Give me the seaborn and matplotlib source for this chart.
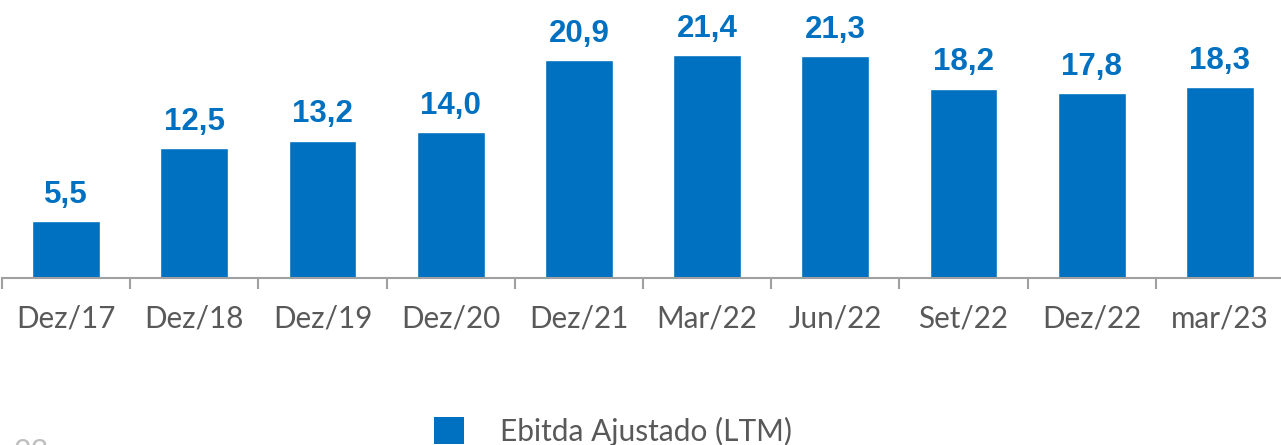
import matplotlib
matplotlib.use("Agg")
import matplotlib.pyplot as plt
from matplotlib.patches import Patch
from matplotlib.ticker import FixedLocator
import pandas as pd
import seaborn as sns

# dados do grafico
periodos = ['Dez/17', 'Dez/18', 'Dez/19', 'Dez/20', 'Dez/21',
            'Mar/22', 'Jun/22', 'Set/22', 'Dez/22', 'mar/23']
ebitda = [5.5, 12.5, 13.2, 14.0, 20.9, 21.4, 21.3, 18.2, 17.8, 18.3]
serie_nome = 'Ebitda Ajustado (LTM)'
pagina = '23'

AZUL = '#0070C0'
CINZA = '#595959'
LINHA = '#A0A0A0'

sns.set_style('white')
plt.rcParams['font.family'] = ['Lato', 'DejaVu Sans']

df = pd.DataFrame({'periodo': periodos, 'valor': ebitda})

W, H = 1281, 445
fig = plt.figure(figsize=(W / 100, H / 100), dpi=100)
# eixo: base em y=278px, comeca em x=2px, passa um pouco da borda direita
ax = fig.add_axes([2 / W, (H - 278) / H, 1.0, 278 / H])

sns.barplot(data=df, x='periodo', y='valor', color=AZUL, width=0.53,
            saturation=1, ax=ax)

passo = 128.2  # px por categoria
ax.set_xlim(-0.5, -0.5 + W / passo)
ax.set_ylim(0, 26.7)

rotulos = [f'{v:.1f}'.replace('.', ',') for v in ebitda]
ax.bar_label(ax.containers[0], labels=rotulos, padding=8, color=AZUL,
             fontsize=22.5, fontweight='bold', family='Liberation Sans')

for s in ['top', 'right', 'left']:
    ax.spines[s].set_visible(False)
ax.spines['bottom'].set_color(LINHA)
ax.spines['bottom'].set_linewidth(1.5)

ax.set_yticks([])
ax.set_xlabel('')
ax.set_ylabel('')
ax.tick_params(axis='x', which='major', length=0, pad=19, labelsize=21.3,
               labelcolor=CINZA)
ax.xaxis.set_minor_locator(FixedLocator([i - 0.5 for i in range(len(periodos) + 1)]))
ax.tick_params(axis='x', which='minor', length=8, width=1.5, color=LINHA,
               direction='out', bottom=True)

fig.legend(handles=[Patch(facecolor=AZUL, edgecolor='none', label=serie_nome)],
           loc='center', bbox_to_anchor=(613 / W, 1 - 431 / H), frameon=False,
           fontsize=21.5, handlelength=1.0, handleheight=1.0,
           handletextpad=1.18, borderpad=0, labelcolor=CINZA)

fig.text(14 / W, 1 - 452 / H, pagina, fontsize=22, color='#BFBFBF',
         ha='left', va='center')

fig.savefig('out.png', dpi=100)
